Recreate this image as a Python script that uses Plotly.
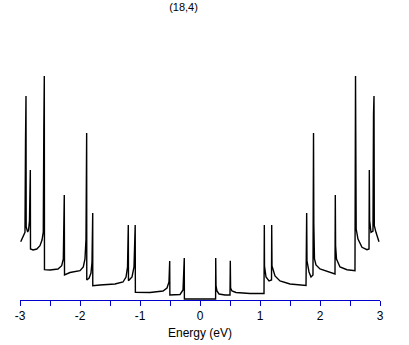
import plotly.graph_objects as go

# Density of states of a (18,4) nanotube (arbitrary units)
energy = [
    -2.988, -2.95, -2.917, -2.908, -2.903, -2.90, -2.897, -2.872, -2.858, -2.842,
    -2.828, -2.825, -2.783, -2.72, -2.667, -2.633, -2.612, -2.603, -2.60, -2.595,
    -2.592, -2.50, -2.367, -2.305, -2.278, -2.262, -2.258, -2.167, -2.0, -1.945,
    -1.917, -1.90, -1.889, -1.887, -1.85, -1.817, -1.80, -1.788, -1.787, -1.667,
    -1.417, -1.283, -1.233, -1.208, -1.195, -1.192, -1.133, -1.10, -1.08, -1.077,
    -0.833, -0.617, -0.55, -0.517, -0.505, -0.502, -0.333, -0.283, -0.262, -0.26,
    0.26, 0.262, 0.267, 0.283, 0.317, 0.417, 0.50, 0.505, 0.51, 0.533,
    0.60, 0.833, 1.067, 1.072, 1.075, 1.10, 1.15, 1.192, 1.195, 1.20,
    1.25, 1.333, 1.50, 1.767, 1.778, 1.783, 1.817, 1.85, 1.883, 1.892,
    1.897, 1.908, 1.933, 2.0, 2.167, 2.25, 2.255, 2.26, 2.275, 2.333,
    2.45, 2.583, 2.592, 2.595, 2.60, 2.603, 2.633, 2.70, 2.783, 2.817,
    2.822, 2.827, 2.85, 2.883, 2.892, 2.895, 2.90, 2.905, 2.933, 2.983,
]
dos = [
    0.573, 0.62, 0.667, 1.58, 0.75, 2.03, 0.72, 0.67, 0.69, 0.78,
    1.29, 0.50, 0.49, 0.50, 0.533, 0.59, 0.67, 1.70, 0.85, 2.23,
    0.293, 0.29, 0.30, 0.333, 0.40, 1.04, 0.24, 0.265, 0.283, 0.32,
    0.40, 0.60, 1.66, 0.19, 0.207, 0.26, 0.367, 0.86, 0.133, 0.14,
    0.15, 0.17, 0.22, 0.32, 0.74, 0.183, 0.22, 0.32, 0.74, 0.067,
    0.065, 0.08, 0.11, 0.17, 0.38, 0.04, 0.045, 0.09, 0.41, 0.0,
    0.0, 0.41, 0.133, 0.08, 0.05, 0.04, 0.04, 0.383, 0.11, 0.08,
    0.065, 0.055, 0.055, 0.74, 0.33, 0.22, 0.18, 0.19, 0.74, 0.33,
    0.23, 0.18, 0.15, 0.135, 0.86, 0.38, 0.27, 0.22, 0.24, 1.66,
    0.75, 0.40, 0.34, 0.30, 0.267, 0.25, 1.04, 0.533, 0.40, 0.32,
    0.293, 0.283, 2.23, 0.95, 1.69, 0.70, 0.60, 0.517, 0.493, 0.50,
    1.29, 0.783, 0.667, 0.68, 1.85, 0.75, 2.03, 0.733, 0.667, 0.573,
]

tick_vals = [-3, -2, -1, 0, 1, 2, 3]
tick_text = ["-3", "-2", "-1", "0", "1", "2", "3"]
chart_title = "(18,4)"
x_title = "Energy (eV)"

FONT = "Liberation Sans"
AXIS_BLUE = "#0000CC"

fig = go.Figure(go.Scatter(
    x=energy, y=dos, mode="lines",
    line=dict(color="black", width=1.4),
    hoverinfo="skip",
))

fig.update_layout(
    width=409, height=345,
    margin=dict(l=20, r=29, t=29, b=45, autoexpand=False),
    paper_bgcolor="white", plot_bgcolor="white",
    showlegend=False,
    title=dict(text=chart_title, x=183.5 / 409, xanchor="center",
               y=1 - 7 / 345, yanchor="middle",
               font=dict(family=FONT, size=11, color="black")),
    font=dict(family=FONT, size=12, color="black"),
)
fig.update_xaxes(
    range=[-3, 3], showgrid=False, zeroline=False, automargin=False,
    showline=True, linecolor=AXIS_BLUE, linewidth=1,
    ticks="outside", ticklen=5, tickcolor=AXIS_BLUE, tickwidth=1,
    tickvals=tick_vals, ticktext=tick_text,
    tickfont=dict(family=FONT, size=12, color="black"),
    minor=dict(dtick=0.5, tick0=0, ticks="outside", ticklen=5,
               tickcolor=AXIS_BLUE, tickwidth=1, showgrid=False),
    title=dict(text=x_title, standoff=6,
               font=dict(family=FONT, size=12, color="black")),
)
fig.update_yaxes(range=[-0.01, 2.7], visible=False, automargin=False)

fig.write_html(
    "out.html",
    config={"displayModeBar": False},
    post_script="document.body.style.margin='0';document.body.style.padding='0';",
)
